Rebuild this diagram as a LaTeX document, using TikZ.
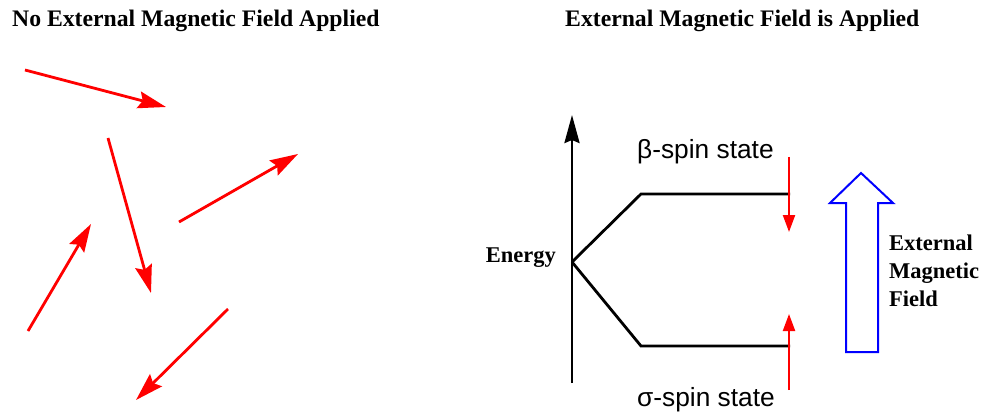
\documentclass[tikz,border=0pt]{standalone}
\usepackage{fontspec}
\setmainfont{Liberation Serif}
\newfontfamily\spinfont{Liberation Sans}
\usepackage{tikz}
\usetikzlibrary{arrows.meta, positioning, calc}
\definecolor{spincol}{RGB}{255, 0, 0}
\definecolor{fieldcol}{RGB}{0, 0, 255}

\begin{document}
\begin{tikzpicture}[
        x=1pt, y=-1pt,
        title/.style={font=\fontsize{23.7}{28}\selectfont\bfseries, anchor=base west, inner sep=0pt},
        label/.style={font=\fontsize{22.5}{28}\selectfont\bfseries, inner sep=0pt, align=left},
        statelabel/.style={font=\fontsize{26.3}{30}\selectfont\spinfont, anchor=base west, inner sep=0pt},
        spin/.style={-{Stealth[length=28pt, width=17pt, inset=4pt]}, line width=2.8pt, spincol},
        smallspin/.style={-{Triangle[length=17pt, width=12pt]}, line width=2.2pt, spincol},
        level/.style={line width=2.8pt, line join=miter},
        field/.style={line width=2pt, fieldcol, line join=miter}
    ]
    \useasboundingbox (0,0) rectangle (987,414);

    % Titles
    \node[title] (lefttitle) at (12,27) {No External Magnetic Field Applied};
    \node[title] (righttitle) at (565,27) {External Magnetic Field is Applied};

    % Random spins
    \foreach \name/\sx/\sy/\ex/\ey in {a/25/70/166/107, b/108/138/151/293, c/179/222/298/154, d/28/331/91/224, e/228/309/136/400} {
        \coordinate (\name1) at (\sx,\sy);
        \coordinate (\name2) at (\ex,\ey);
        \draw[spin] (\name1) -- (\name2);
    }

    % Energy axis
    \coordinate (axisbot) at (572,383);
    \coordinate (axistop) at (572,115);
    \coordinate (split) at (572,262);
    \draw[-{Stealth[length=28pt, width=15pt, inset=3pt]}, line width=2.8pt] (axisbot) -- (axistop);
    \node[label, anchor=base east] (energy) at (556,262) {Energy};

    % Levels
    \coordinate (upbend) at (641,194);
    \coordinate (upend) at (790,194);
    \coordinate (lobend) at (641,346);
    \coordinate (loend) at (790,346);
    \draw[level] (split) -- (upbend) -- (upend);
    \draw[level] (split) -- (lobend) -- (loend);

    \node[statelabel] (beta) at (637,159) {β-spin state};
    \node[statelabel] (sigma) at (637,406) {σ-spin state};

    % Spin arrows on levels
    \coordinate (betatop) at (789,157);
    \coordinate (betatip) at (789,232);
    \coordinate (sigmabot) at (789,390);
    \coordinate (sigmatip) at (789,314);
    \draw[smallspin] (betatop) -- (betatip);
    \draw[smallspin] (sigmabot) -- (sigmatip);

    % External field arrow
    \draw[field] (846,352) -- (846,203) -- (830,203) -- (861,173) -- (893,203) -- (878,203) -- (878,352) -- cycle;
    \node[label, anchor=north west] (fieldlabel) at (889,235) {External\\Magnetic\\Field};

    \end{tikzpicture}
\end{document}
